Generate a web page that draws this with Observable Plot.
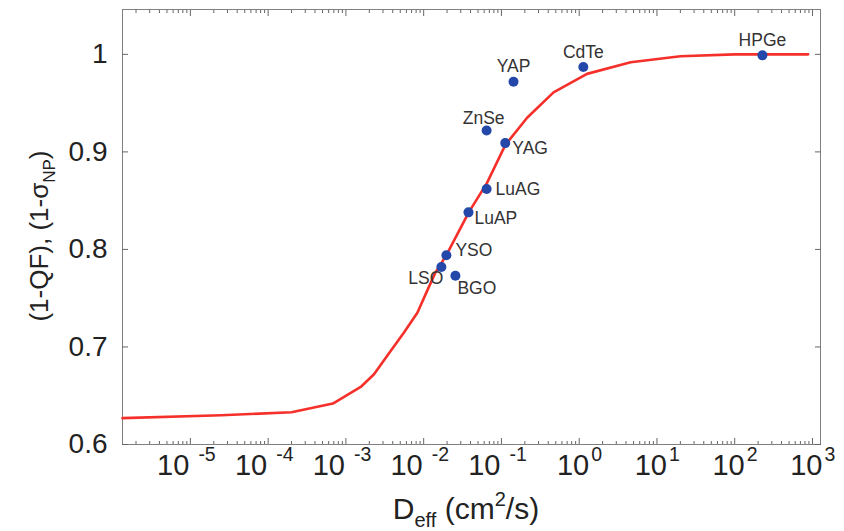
<!DOCTYPE html>
<html>
<head>
<meta charset="utf-8">
<script src="https://cdn.jsdelivr.net/npm/d3@7"></script>
<script src="https://cdn.jsdelivr.net/npm/@observablehq/plot@0.6"></script>
<style>
  body { margin: 0; background: #fff; }
  #chart svg { font-family: "Liberation Sans", Arial, sans-serif; display: block; }
</style>
</head>
<body>
<div id="chart"></div>
<script>
// ---------- data ----------
const materials = ["HPGe", "CdTe", "YAP", "ZnSe", "YAG", "LuAG", "LuAP", "YSO", "LSO", "BGO"];
const materialD = [227, 1.13, 0.143, 0.0645, 0.112, 0.0645, 0.0377, 0.0196, 0.0169, 0.0256];
const materialY = [0.999, 0.987, 0.972, 0.922, 0.909, 0.862, 0.838, 0.794, 0.782, 0.773];

const curveD = [1.34e-6, 2.5e-5, 2.0e-4, 6.8e-4, 1.55e-3, 2.3e-3, 3.7e-3, 5.5e-3, 8.3e-3, 1.1e-2,
                1.41e-2, 1.95e-2, 3.8e-2, 6.5e-2, 0.112, 0.214, 0.468, 1.26, 4.6, 20, 100, 880];
const curveY = [0.627, 0.630, 0.633, 0.642, 0.659, 0.672, 0.695, 0.714, 0.735, 0.757,
                0.776, 0.794, 0.838, 0.868, 0.907, 0.935, 0.961, 0.980, 0.992, 0.998, 1.0, 1.0];

const yTicks = [0.6, 0.7, 0.8, 0.9, 1];
const yTickLabels = ["0.6", "0.7", "0.8", "0.9", "1"];
const xTicks = [1e-5, 1e-4, 1e-3, 1e-2, 1e-1, 1e0, 1e1, 1e2, 1e3];
const xTickBase = "10";
const xTickExponents = ["-5", "-4", "-3", "-2", "-1", "0", "1", "2", "3"];
const minorDecades = [1e-6, 1e-5, 1e-4, 1e-3, 1e-2, 1e-1, 1e0, 1e1, 1e2];
const minorMantissas = [2, 3, 4, 5, 6, 7, 8, 9];

const xTitle = {main: "D", sub: "eff", mid: " (cm", sup: "2", end: "/s)"};
const yTitle = {main: "(1-QF), (1-σ", sub: "NP", end: ")"};

// ---------- layout (not data) ----------
const labelLayout = {
  HPGe: {dx: 0, dy: -15, anchor: "middle"},
  CdTe: {dx: 0, dy: -15, anchor: "middle"},
  YAP:  {dx: 0, dy: -15, anchor: "middle"},
  ZnSe: {dx: -3, dy: -12, anchor: "middle"},
  YAG:  {dx: 7, dy: 5, anchor: "start"},
  LuAG: {dx: 9, dy: 0, anchor: "start"},
  LuAP: {dx: 6, dy: 6, anchor: "start"},
  YSO:  {dx: 9, dy: -5, anchor: "start"},
  LSO:  {dx: 2, dy: 11, anchor: "end"},
  BGO:  {dx: 2, dy: 13, anchor: "start"}
};
// offsets of "10" (end) and exponent (start) from the tick, for negative / non-negative exponents
const xLabelOffsets = {neg: {base: -1, exp: 8}, pos: {base: 10, exp: 12}};

const points = materials.map((name, i) => ({name, D: materialD[i], v: materialY[i]}));
const curve = curveD.map((D, i) => ({D, v: curveY[i]}));
const minorTicks = minorDecades.flatMap(d => minorMantissas.map(m => d * m))
  .filter(t => t > 1.34e-6 && t < 1268);
const xLabels = xTicks.map((t, i) => ({t, exp: xTickExponents[i], neg: xTickExponents[i].startsWith("-")}));

const tickColor = "#666";
const textColor = "#222";

function xLabelMarks(neg) {
  const data = xLabels.filter(d => d.neg === neg);
  const o = neg ? xLabelOffsets.neg : xLabelOffsets.pos;
  return [
    Plot.text(data, {x: "t", text: () => xTickBase, frameAnchor: "bottom", textAnchor: "end",
      dx: o.base, dy: 30, fontSize: 29, fill: textColor}),
    Plot.text(data, {x: "t", text: "exp", frameAnchor: "bottom", textAnchor: "start",
      dx: o.exp, dy: 16, fontSize: 19.5, fill: textColor})
  ];
}

const marks = [
  Plot.frame({stroke: "#808080", strokeWidth: 1}),
  // inward ticks
  Plot.axisX(xTicks, {anchor: "bottom", tickSize: -6, tickFormat: () => "", stroke: tickColor, label: null}),
  Plot.axisX(minorTicks, {anchor: "bottom", tickSize: -3, tickFormat: () => "", stroke: tickColor, label: null}),
  Plot.axisX(xTicks, {anchor: "top", tickSize: -6, tickFormat: () => "", stroke: tickColor, label: null}),
  Plot.axisX(minorTicks, {anchor: "top", tickSize: -3, tickFormat: () => "", stroke: tickColor, label: null}),
  Plot.axisY(yTicks, {anchor: "left", tickSize: -6, tickFormat: () => "", stroke: tickColor, label: null}),
  Plot.axisY(yTicks, {anchor: "right", tickSize: -6, tickFormat: () => "", stroke: tickColor, label: null}),
  // y tick labels
  Plot.axisY(yTicks, {anchor: "left", tickSize: 0, tickPadding: 15, fontSize: 28, fill: textColor, label: null,
    tickFormat: d => yTickLabels[yTicks.indexOf(d)]}),
  // x tick labels
  ...xLabelMarks(true),
  ...xLabelMarks(false),
  // curve
  Plot.line(curve, {x: "D", y: "v", stroke: "#f5302a", strokeWidth: 2.6, curve: "linear"}),
  // points
  Plot.dot(points, {x: "D", y: "v", r: 5, fill: "#2447aa", stroke: null}),
  // point labels
  ...materials.map(name => {
    const L = labelLayout[name];
    return Plot.text(points.filter(p => p.name === name), {
      x: "D", y: "v", text: "name", dx: L.dx, dy: L.dy, textAnchor: L.anchor,
      fontSize: 17.5, fill: "#333"
    });
  })
];

const chart = Plot.plot({
  width: 844,
  height: 531,
  marginLeft: 122,
  marginRight: 24,
  marginTop: 9,
  marginBottom: 87,
  x: {type: "log", domain: [1.34e-6, 1268], label: null},
  y: {domain: [0.6, 1.046], label: null},
  style: {fontFamily: "'Liberation Sans', Arial, sans-serif", background: "#fff", color: textColor},
  marks
});
document.getElementById("chart").appendChild(chart);

// axis titles with sub/superscripts
const svg = d3.select(chart);
const xt = svg.append("text")
  .attr("x", 466).attr("y", 519)
  .attr("text-anchor", "middle")
  .attr("font-size", 30)
  .attr("fill", textColor);
xt.append("tspan").text(xTitle.main);
xt.append("tspan").attr("font-size", 20).attr("dy", 8).text(xTitle.sub);
xt.append("tspan").attr("dy", -8).text(xTitle.mid);
xt.append("tspan").attr("font-size", 20).attr("dy", -13).text(xTitle.sup);
xt.append("tspan").attr("dy", 13).text(xTitle.end);

const yt = svg.append("text")
  .attr("transform", "translate(48,236) rotate(-90)")
  .attr("text-anchor", "middle")
  .attr("font-size", 26)
  .attr("fill", textColor);
yt.append("tspan").text(yTitle.main);
yt.append("tspan").attr("font-size", 17).attr("dy", 7).text(yTitle.sub);
yt.append("tspan").attr("dy", -7).text(yTitle.end);
</script>
</body>
</html>
